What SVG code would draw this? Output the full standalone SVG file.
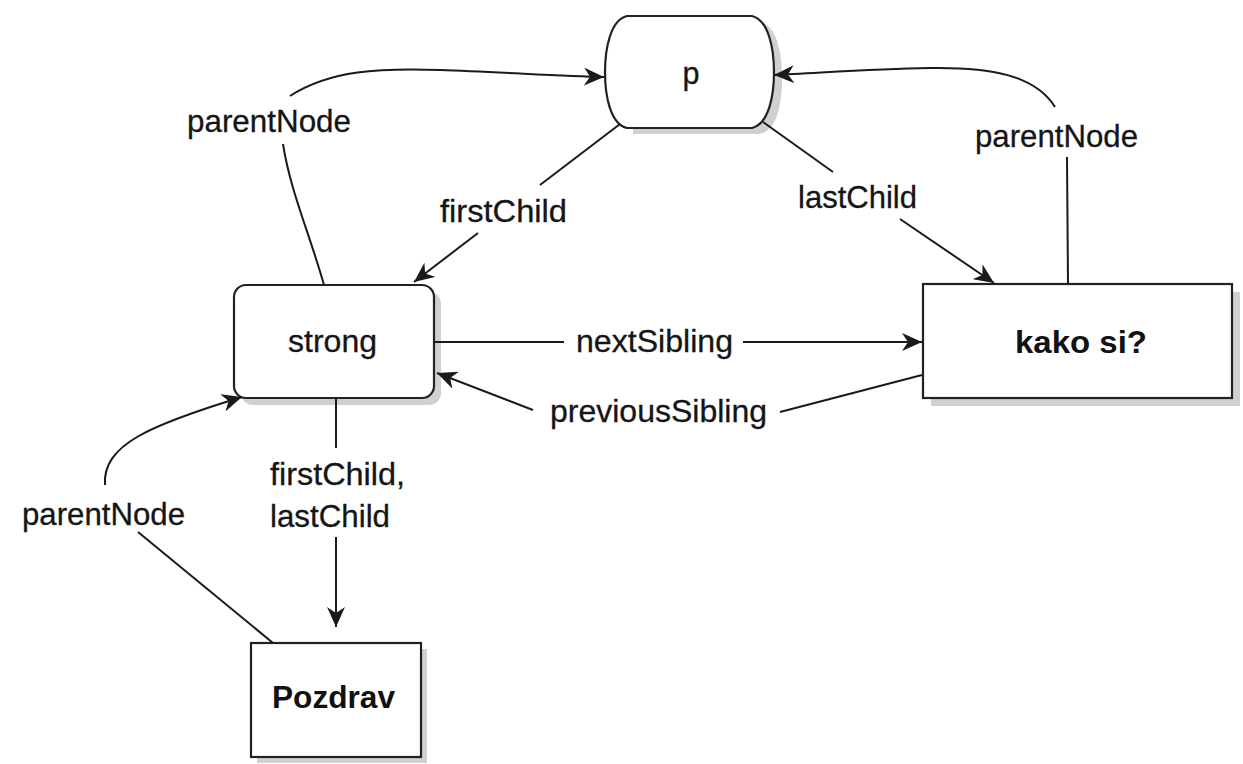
<svg xmlns="http://www.w3.org/2000/svg" width="1243" height="764" viewBox="0 0 1243 764">
<style>
.box{fill:#fff;stroke:#222;stroke-width:2.2}
.shadow{fill:#cfd0d2;stroke:none}
.lbl{font-family:"Liberation Sans",Arial,sans-serif;font-size:32px;fill:#151515;stroke:#151515;stroke-width:0.3}
.nlbl{font-family:"Liberation Sans",Arial,sans-serif;font-size:32px;font-weight:bold;fill:#111}
.c{fill:none;stroke:#1a1a1a;stroke-width:2}
.ca{fill:none;stroke:#1a1a1a;stroke-width:2;marker-end:url(#ah)}
</style>
<defs>
<marker id="ah" markerUnits="userSpaceOnUse" markerWidth="22" markerHeight="18" refX="20" refY="9" orient="auto">
<path d="M0,0 L20,9 L0,18 L6,9 Z" fill="#1a1a1a"/>
</marker>
</defs>
<rect width="1243" height="764" fill="#fff"/>

<g id="node-p">
<path class="shadow" d="M633,22 H760 C778,26 782,56 782,78 C782,101 778,130 760,134 H633 Z"/>
<path class="box" d="M627,16 H752 C769,20 774,50 774,72 C774,95 769,124 752,128 H627 C610,124 605,95 605,72 C605,50 610,20 627,16 Z"/>
<text class="lbl" x="691" y="84" text-anchor="middle" font-size="36" textLength="17" lengthAdjust="spacingAndGlyphs">p</text>
</g>

<g id="node-strong">
<rect class="shadow" x="241" y="292" width="200" height="113" rx="12"/>
<rect class="box" x="234" y="285" width="200" height="113" rx="12"/>
<text class="lbl" x="288" y="352" textLength="89" lengthAdjust="spacingAndGlyphs">strong</text>
</g>

<g id="node-kako">
<rect class="shadow" x="931" y="292" width="309" height="114"/>
<rect class="box" x="923" y="284" width="309" height="114"/>
<text class="nlbl" x="1015" y="353" textLength="132" lengthAdjust="spacingAndGlyphs">kako si?</text>
</g>

<g id="node-pozdrav">
<rect class="shadow" x="257" y="649" width="170" height="114"/>
<rect class="box" x="251" y="643" width="170" height="114"/>
<text class="nlbl" x="272" y="708" textLength="123" lengthAdjust="spacingAndGlyphs">Pozdrav</text>
</g>

<g id="connectors">
<!-- strong -> p parentNode -->
<path class="c" d="M324,285 C310,235 290,190 283,144"/>
<path class="ca" d="M290,96 C330,70 380,68 440,70 C500,72 560,76 604,77"/>
<text class="lbl" x="187" y="132" textLength="164" lengthAdjust="spacingAndGlyphs">parentNode</text>

<!-- p -> strong firstChild -->
<path class="c" d="M620,124 L540,185"/>
<path class="ca" d="M478,233 L414,282"/>
<text class="lbl" x="440" y="222" textLength="127" lengthAdjust="spacingAndGlyphs">firstChild</text>

<!-- p -> kako lastChild -->
<path class="c" d="M763,122 L833,172"/>
<path class="ca" d="M900,219 L994,283"/>
<text class="lbl" x="798" y="208" textLength="119" lengthAdjust="spacingAndGlyphs">lastChild</text>

<!-- kako -> p parentNode -->
<path class="c" d="M1068,284 L1067,157"/>
<path class="ca" d="M1055,107 C1035,75 990,67 930,68 C870,69 820,73 774,75"/>
<text class="lbl" x="975" y="147" textLength="163" lengthAdjust="spacingAndGlyphs">parentNode</text>

<!-- nextSibling -->
<path class="c" d="M434,342 L564,342"/>
<path class="ca" d="M743,342 L922,342"/>
<text class="lbl" x="576" y="352" textLength="157" lengthAdjust="spacingAndGlyphs">nextSibling</text>

<!-- previousSibling -->
<path class="c" d="M922,375 L780,412"/>
<path class="ca" d="M533,410 L437,373"/>
<text class="lbl" x="550" y="422" textLength="217" lengthAdjust="spacingAndGlyphs">previousSibling</text>

<!-- strong -> Pozdrav firstChild, lastChild -->
<path class="c" d="M336,398 L336,448"/>
<path class="ca" d="M336,537 L336,627"/>
<text class="lbl" x="270" y="485" textLength="135" lengthAdjust="spacingAndGlyphs">firstChild,</text>
<text class="lbl" x="270" y="527" textLength="120" lengthAdjust="spacingAndGlyphs">lastChild</text>

<!-- Pozdrav -> strong parentNode -->
<path class="c" d="M273,643 L138,532"/>
<path class="ca" d="M105,485 C102,445 150,425 242,397"/>
<text class="lbl" x="22" y="525" textLength="163" lengthAdjust="spacingAndGlyphs">parentNode</text>
</g>
</svg>
